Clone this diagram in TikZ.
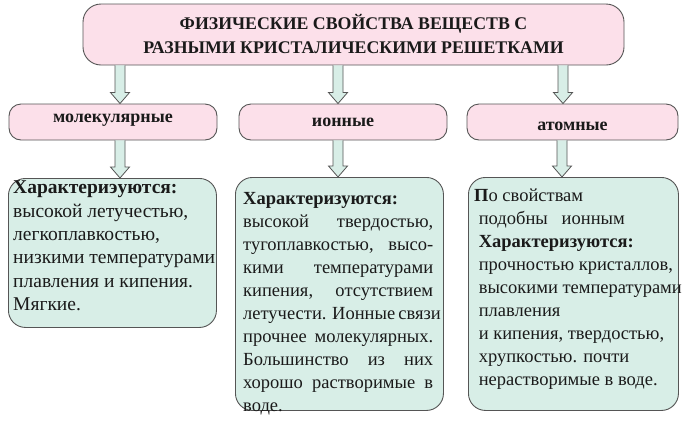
\documentclass[tikz,border=0pt]{standalone}
\usepackage{fontspec}
\setmainfont{Liberation Serif}
\usetikzlibrary{calc}
\definecolor{pinkfill}{HTML}{FCE0EA}
\definecolor{greenfill}{HTML}{D8EEE7}
\definecolor{edge}{HTML}{555555}
\definecolor{ink}{HTML}{1A1A1A}
\newcommand\blockarrow[3]{% from node #1 (south) to node #2 (north) at x=#3
  \fill[arrowfill] let \p1=(#1.south), \p2=(#2.north) in
    (#3-5,\y1) -- (#3-5,\y2+11) -- (#3-9.5,\y2+11) -- (#3,\y2) --
    (#3+9.5,\y2+11) -- (#3+5,\y2+11) -- (#3+5,\y1) -- cycle;
  \draw[arrowline] let \p1=(#1.south), \p2=(#2.north) in
    (#3-5,\y1) -- (#3-5,\y2+11) -- (#3-9.5,\y2+11) -- (#3,\y2) --
    (#3+9.5,\y2+11) -- (#3+5,\y2+11) -- (#3+5,\y1);}
\tikzset{
  titlebox/.style={draw=edge, fill=pinkfill, line width=0.9pt, rounded corners=18pt,
    inner sep=0pt, align=center, text=ink,
    font=\bfseries\fontsize{17.8}{24}\selectfont},
  kindbox/.style={draw=edge, fill=pinkfill, line width=0.9pt, rounded corners=12pt,
    inner sep=0pt, minimum height=36pt, text=ink, text height=12pt, text depth=4pt,
    font=\bfseries\fontsize{18}{22}\selectfont},
  infobox/.style={draw=edge, fill=greenfill, line width=0.9pt, rounded corners=17pt,
    inner sep=0pt, anchor=north west},
  infotext/.style={inner sep=0pt, anchor=north west, align=left, text=ink,
    font=\fontsize{18.5}{23}\selectfont},
  arrowfill/.style={fill=greenfill},
  arrowline/.style={draw=edge, line width=0.8pt, line join=miter}
}
\begin{document}
\begin{tikzpicture}[x=1pt,y=-1pt]
\useasboundingbox (0,0) rectangle (683,424);
% title
\node[titlebox, minimum width=541pt, minimum height=61pt] (t) at (353.5,34.5)
  {ФИЗИЧЕСКИЕ СВОЙСТВА ВЕЩЕСТВ С\\РАЗНЫМИ КРИСТАЛИЧЕСКИМИ РЕШЕТКАМИ};
% kinds
\node[kindbox, minimum width=208pt] (m) at (113,122) {\raisebox{4pt}{молекулярные}};
\node[kindbox, minimum width=208pt] (i) at (343,122) {ионные};
\node[kindbox, minimum width=211pt] (a) at (572.5,122) {\raisebox{-4pt}{атомные}};
% info boxes
\node[infobox, minimum width=208pt, minimum height=149pt] (mb) at (8,178) {};
\node[infobox, minimum width=208pt, minimum height=233pt] (ib) at (235,177) {};
\node[infobox, minimum width=210pt, minimum height=233pt] (ab) at (468,177) {};
% texts
\node[infotext, font=\fontsize{19.5}{23.3}\selectfont] (mt) at (13,181) {\textbf{Характериэуются:}\\
высокой летучестью,\\
легкоплавкостью,\\
низкими температурами\\
плавления и кипения.\\
Мягкие.};
\node[infotext] (it) at (243,192.5) {\textbf{Характеризуются:}\\
\makebox[190pt][s]{высокой твердостью,}\\
\makebox[190pt][s]{тугоплавкостью, высо-}\\
\makebox[190pt][s]{кими температурами}\\
\makebox[190pt][s]{кипения, отсутствием}\\
\makebox[190pt][s]{летучести. Ионные связи}\\
\makebox[190pt][s]{прочнее молекулярных.}\\
\makebox[190pt][s]{Большинство из них}\\
\makebox[190pt][s]{хорошо растворимые в}\\
воде.};
\node[infotext] (at) at (474,188.5) {\textbf{П}о свойствам\\
\ подобны \ \ ионным\\
\ \textbf{Характеризуются:}\\
\ прочностью кристаллов,\\
\ высокими температурами\\
\ плавления\\
\ и кипения, твердостью,\\
\ хрупкостью. почти\\
\ нерастворимые в воде.};
% arrows
\blockarrow{t}{m}{120}
\blockarrow{t}{i}{338}
\blockarrow{t}{a}{563}
\blockarrow{m}{mb}{120}
\blockarrow{i}{ib}{338}
\blockarrow{a}{ab}{562}
\end{tikzpicture}
\end{document}
